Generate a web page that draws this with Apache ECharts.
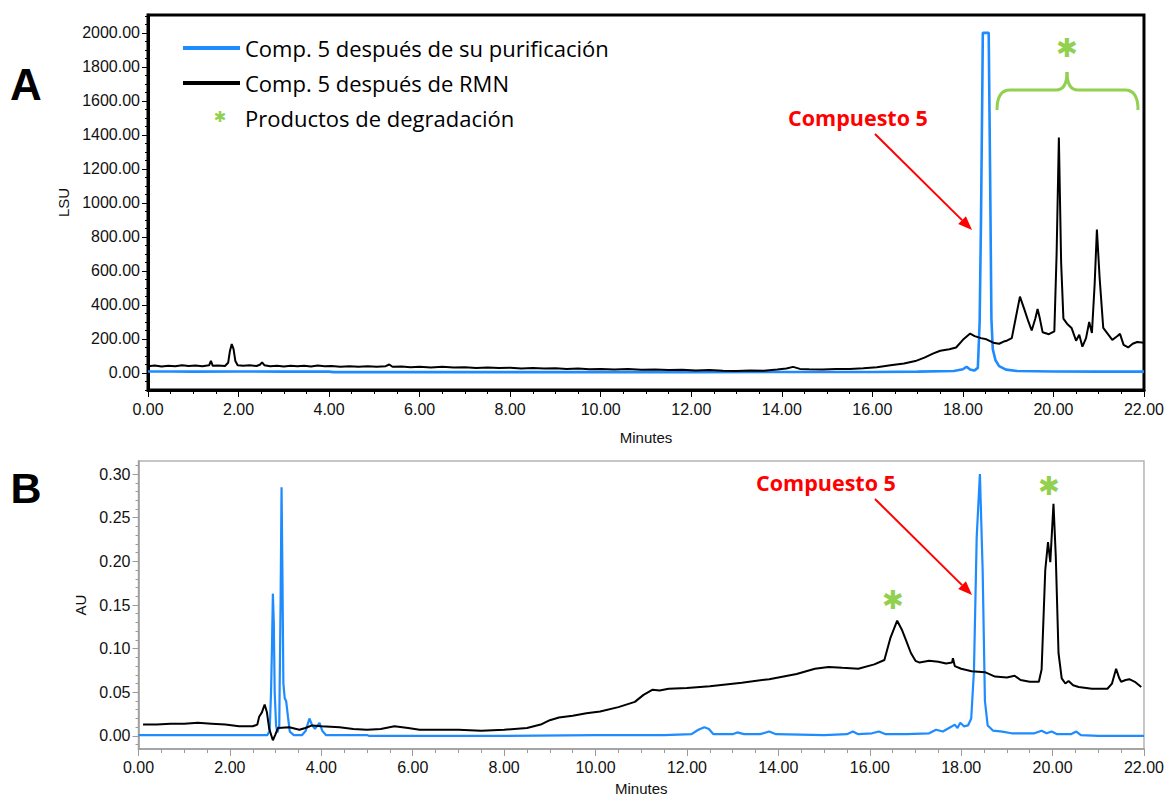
<!DOCTYPE html>
<html>
<head>
<meta charset="utf-8">
<title>HPLC compuesto 5</title>
<script src="https://cdn.jsdelivr.net/npm/echarts@6.0.0/dist/echarts.min.js"></script>
<style>
  html, body { margin: 0; padding: 0; background: #fff; }
  #chart { width: 1167px; height: 798px; }
</style>
</head>
<body>
<div id="chart"></div>
<script>
// nombres de las series
const NAME_BLUE = 'Comp. 5 después de su purificación'
const NAME_BLACK = 'Comp. 5 después de RMN'

// etiquetas de los ejes
const yTicksA = [0, 200, 400, 600, 800, 1000, 1200, 1400, 1600, 1800, 2000]
const yTicksB = [0, 0.05, 0.10, 0.15, 0.20, 0.25, 0.30]

// panel A (LSU) : [minutos, valor]
const aBlue = [[0,9],[0.5,9],[1.0,8],[2.0,9],[3.0,8],[4.0,8],[4.1,5],[6.0,5],[8.0,5],[10.0,5],[12.0,5],[14.0,6],[16.0,6],[17.0,8],[17.8,12],[18.0,22],[18.08,37],[18.16,20],[18.25,14],[18.33,30],[18.37,300],[18.40,900],[18.43,1700],[18.44,2000],[18.57,2000],[18.60,1200],[18.63,320],[18.66,140],[18.72,75],[18.80,40],[18.95,20],[19.2,12],[20.0,9],[21.0,8],[22.0,8]]

const aBlack = [[0,40],[0.15,44],[0.3,38],[0.45,43],[0.6,39],[0.75,45],[0.9,41],[1.05,44],[1.2,40],[1.35,45],[1.39,72],[1.43,42],[1.55,44],[1.7,41],[1.77,60],[1.81,130],[1.85,170],[1.89,140],[1.93,70],[1.98,46],[2.1,42],[2.25,45],[2.4,41],[2.48,50],[2.52,63],[2.57,46],[2.7,40],[2.85,43],[3.0,38],[3.15,42],[3.3,39],[3.45,43],[3.6,38],[3.75,44],[3.9,39],[4.05,41],[4.25,37],[4.45,40],[4.65,36],[4.85,40],[5.05,37],[5.25,40],[5.33,50],[5.4,37],[5.6,38],[5.8,34],[6.0,37],[6.25,33],[6.5,36],[6.75,32],[7.0,34],[7.25,30],[7.5,33],[7.75,29],[8.0,31],[8.25,27],[8.5,29],[8.75,26],[9.0,28],[9.25,24],[9.5,26],[9.75,22],[10.0,24],[10.3,20],[10.6,23],[10.9,19],[11.2,21],[11.5,17],[11.8,19],[12.1,14],[12.4,17],[12.7,13],[13.0,12],[13.3,15],[13.6,13],[13.9,20],[14.1,26],[14.25,36],[14.4,24],[14.6,22],[14.9,20],[15.2,24],[15.5,23],[15.8,28],[16.1,34],[16.4,45],[16.7,56],[16.95,70],[17.15,90],[17.35,115],[17.5,131],[17.7,140],[17.85,150],[18.0,195],[18.16,232],[18.26,217],[18.4,205],[18.52,198],[18.67,178],[18.8,172],[18.9,185],[18.97,190],[19.08,205],[19.15,300],[19.26,449],[19.35,380],[19.45,300],[19.52,250],[19.6,320],[19.65,376],[19.7,320],[19.76,240],[19.9,228],[20.02,245],[20.07,700],[20.12,1385],[20.17,650],[20.22,320],[20.3,290],[20.4,265],[20.5,190],[20.57,225],[20.64,155],[20.72,205],[20.79,300],[20.85,235],[20.91,520],[20.96,843],[21.02,560],[21.1,265],[21.2,230],[21.3,195],[21.4,215],[21.47,230],[21.55,165],[21.65,150],[21.75,172],[21.85,182],[22.0,178]]

// panel B (AU) : [minutos, valor]
const bBlue = [[0,0.001],[1.0,0.001],[2.0,0.001],[2.82,0.001],[2.87,0.006],[2.9,0.05],[2.92,0.10],[2.94,0.163],[2.96,0.13],[2.98,0.05],[3.01,0.012],[3.04,0.004],[3.08,0.012],[3.11,0.16],[3.13,0.285],[3.15,0.18],[3.17,0.06],[3.2,0.043],[3.23,0.040],[3.27,0.022],[3.31,0.005],[3.4,0.001],[3.58,0.001],[3.66,0.006],[3.74,0.020],[3.8,0.012],[3.86,0.008],[3.92,0.012],[3.96,0.015],[4.02,0.006],[4.1,0.001],[5.0,0.001],[5.05,0.0],[6.0,0.0],[8.0,0.0],[10.0,0.001],[11.5,0.001],[12.1,0.002],[12.25,0.007],[12.38,0.010],[12.48,0.008],[12.58,0.002],[13.0,0.002],[13.1,0.004],[13.25,0.002],[13.6,0.002],[13.8,0.005],[13.95,0.002],[15.0,0.001],[15.5,0.002],[15.63,0.005],[15.75,0.002],[16.05,0.003],[16.2,0.005],[16.35,0.002],[16.8,0.002],[17.3,0.003],[17.45,0.007],[17.6,0.005],[17.8,0.011],[17.86,0.013],[17.92,0.009],[17.98,0.015],[18.06,0.011],[18.15,0.012],[18.22,0.02],[18.28,0.075],[18.34,0.228],[18.41,0.300],[18.47,0.19],[18.52,0.04],[18.58,0.012],[18.7,0.006],[18.9,0.005],[19.1,0.003],[19.6,0.003],[19.76,0.006],[19.87,0.003],[19.98,0.005],[20.1,0.002],[20.4,0.002],[20.52,0.005],[20.62,0.001],[21.0,0.0],[22.0,0.0]]

const bBlack = [[0.1,0.013],[0.4,0.013],[0.7,0.014],[1.0,0.014],[1.3,0.015],[1.6,0.014],[1.9,0.013],[2.2,0.011],[2.5,0.011],[2.6,0.013],[2.64,0.022],[2.7,0.027],[2.76,0.036],[2.81,0.027],[2.86,0.008],[2.94,-0.005],[2.99,0.001],[3.05,0.009],[3.3,0.010],[3.52,0.007],[3.65,0.009],[3.8,0.012],[4.0,0.011],[4.4,0.010],[4.7,0.008],[5.0,0.007],[5.3,0.008],[5.6,0.011],[5.9,0.009],[6.15,0.007],[6.5,0.007],[7.0,0.007],[7.5,0.006],[8.0,0.007],[8.5,0.009],[8.8,0.013],[9.0,0.018],[9.2,0.021],[9.5,0.023],[9.8,0.026],[10.1,0.028],[10.5,0.033],[10.86,0.039],[11.05,0.047],[11.25,0.053],[11.4,0.052],[11.6,0.054],[12.0,0.055],[12.5,0.057],[13.2,0.061],[13.8,0.065],[14.4,0.071],[14.8,0.077],[15.1,0.079],[15.4,0.078],[15.75,0.077],[16.1,0.082],[16.32,0.087],[16.45,0.112],[16.6,0.132],[16.7,0.122],[16.79,0.110],[16.9,0.095],[17.0,0.086],[17.09,0.084],[17.3,0.086],[17.5,0.085],[17.67,0.083],[17.8,0.084],[17.82,0.089],[17.86,0.080],[18.0,0.077],[18.23,0.074],[18.52,0.073],[18.74,0.068],[19.0,0.067],[19.17,0.069],[19.3,0.064],[19.5,0.062],[19.7,0.062],[19.76,0.076],[19.84,0.19],[19.9,0.222],[19.95,0.199],[20.02,0.266],[20.07,0.206],[20.13,0.095],[20.2,0.066],[20.28,0.060],[20.35,0.063],[20.45,0.058],[20.57,0.056],[20.86,0.054],[21.2,0.054],[21.3,0.060],[21.39,0.077],[21.46,0.066],[21.5,0.062],[21.6,0.064],[21.68,0.065],[21.8,0.062],[21.94,0.056]]

const BLUE = '#1E8CFF'
const GREEN = '#92D050'
const RED = '#FF0000'
const AXIS_FONT = 'Liberation Sans'
const NOTE_FONT = 'Open Sans'

// marcas menores del eje y
function minorTicks(lo, hi, step) {
  const out = []
  for (let v = lo; v <= hi + step / 1000; v += step) out.push(+v.toFixed(4))
  return out
}

function arrow(x1, y1, x2, y2) {
  const dx = x2 - x1, dy = y2 - y1
  const len = Math.sqrt(dx * dx + dy * dy)
  const ux = dx / len, uy = dy / len
  const bx = x2 - ux * 14, by = y2 - uy * 14
  return [
    { type: 'line', z: 100, shape: { x1: x1, y1: y1, x2: bx, y2: by }, style: { stroke: RED, lineWidth: 2 } },
    { type: 'polygon', z: 100, shape: { points: [[x2, y2], [bx - uy * 5.5, by + ux * 5.5], [bx + uy * 5.5, by - ux * 5.5]] }, style: { fill: RED } }
  ]
}

function star(x, y, size) {
  return { type: 'text', z: 100, style: { text: '✱', x: x, y: y, font: 'bold ' + size + 'px DejaVu Sans', fill: GREEN, textAlign: 'center', textVerticalAlign: 'middle' } }
}

function note(x, y, text, font, color, align) {
  return { type: 'text', z: 100, style: { text: text, x: x, y: y, font: font, fill: color, textAlign: align || 'center', textVerticalAlign: 'middle' } }
}

// llave verde sobre los productos de degradación
function brace() {
  const st = { stroke: GREEN, lineWidth: 3, fill: null }
  return [
    { type: 'bezierCurve', z: 100, shape: { x1: 997, y1: 110, x2: 1010, y2: 90, cpx1: 997, cpy1: 90 }, style: st },
    { type: 'line', z: 100, shape: { x1: 1010, y1: 90, x2: 1056, y2: 90 }, style: st },
    { type: 'bezierCurve', z: 100, shape: { x1: 1056, y1: 90, x2: 1067, y2: 72, cpx1: 1067, cpy1: 90 }, style: st },
    { type: 'bezierCurve', z: 100, shape: { x1: 1067, y1: 72, x2: 1078, y2: 90, cpx1: 1067, cpy1: 90 }, style: st },
    { type: 'line', z: 100, shape: { x1: 1078, y1: 90, x2: 1125, y2: 90 }, style: st },
    { type: 'bezierCurve', z: 100, shape: { x1: 1125, y1: 90, x2: 1138, y2: 110, cpx1: 1138, cpy1: 90 }, style: st }
  ]
}

const labelStyle = { fontFamily: AXIS_FONT, fontSize: 16, color: '#111' }
const nameStyle = { fontFamily: AXIS_FONT, fontSize: 15, color: '#111' }

function xAxisFor(grid, color, width, margin, gap) {
  return {
    gridIndex: grid, type: 'value', min: 0, max: 22, interval: 2,
    axisLine: { show: true, onZero: false, lineStyle: { color: color, width: width } },
    axisTick: { show: true, length: 7, lineStyle: { color: color } },
    minorTick: { show: true, splitNumber: 4, length: 4, lineStyle: { color: color } },
    axisLabel: Object.assign({ margin: margin, formatter: v => v.toFixed(2) }, labelStyle),
    splitLine: { show: false },
    name: 'Minutes', nameLocation: 'middle', nameGap: gap, nameTextStyle: nameStyle
  }
}

function yAxisFor(grid, min, max, ticks, color, width, name, gap) {
  return {
    gridIndex: grid, type: 'value', min: min, max: max, position: 'left',
    axisLine: { show: true, onZero: false, lineStyle: { color: color, width: width } },
    axisTick: { show: true, customValues: ticks, length: 6, lineStyle: { color: color } },
    axisLabel: Object.assign({ customValues: ticks, margin: 8, formatter: v => v.toFixed(2) }, labelStyle),
    splitLine: { show: false },
    name: name, nameLocation: 'middle', nameGap: gap, nameTextStyle: nameStyle
  }
}

function yMinorFor(grid, min, max, ticks, color) {
  return {
    gridIndex: grid, type: 'value', min: min, max: max, position: 'left',
    axisLine: { show: false, onZero: false },
    axisTick: { show: true, customValues: ticks, length: 3, lineStyle: { color: color } },
    axisLabel: { show: false },
    splitLine: { show: false }
  }
}

const chart = echarts.init(document.getElementById('chart'), null, { renderer: 'svg' })

const option = {
  backgroundColor: '#fff',
  animation: false,
  grid: [
    { left: 148, top: 15, width: 996, height: 375, show: true, borderColor: '#000', borderWidth: 3 },
    { left: 138.5, top: 461, width: 1008, height: 288, show: true, borderColor: '#b4b4b4', borderWidth: 1.5 }
  ],
  xAxis: [
    xAxisFor(0, '#000', 3, 11, 40),
    xAxisFor(1, '#9a9a9a', 1.5, 10, 32)
  ],
  yAxis: [
    yAxisFor(0, -100, 2105, yTicksA, '#000', 3, 'LSU', 75),
    yMinorFor(0, -100, 2105, minorTicks(-100, 2100, 50), '#000'),
    yAxisFor(1, -0.015, 0.315, yTicksB, '#9a9a9a', 1.5, 'AU', 49),
    yMinorFor(1, -0.015, 0.315, minorTicks(-0.01, 0.31, 0.01), '#9a9a9a')
  ],
  legend: {
    data: [NAME_BLUE, NAME_BLACK],
    orient: 'vertical', left: 178, top: 31,
    icon: 'rect', itemWidth: 57, itemHeight: 4, itemGap: 11,
    selectedMode: false,
    textStyle: { fontFamily: NOTE_FONT, fontSize: 22, color: '#000', lineHeight: 24 }
  },
  series: [
    { name: NAME_BLUE, type: 'line', xAxisIndex: 0, yAxisIndex: 0, data: aBlue, showSymbol: false, color: BLUE, lineStyle: { color: BLUE, width: 2.6 }, z: 2 },
    { name: NAME_BLACK, type: 'line', xAxisIndex: 0, yAxisIndex: 0, data: aBlack, showSymbol: false, color: '#000', lineStyle: { color: '#000', width: 2 }, z: 3 },
    { name: NAME_BLUE, type: 'line', xAxisIndex: 1, yAxisIndex: 2, data: bBlue, showSymbol: false, color: BLUE, lineStyle: { color: BLUE, width: 2.2 }, z: 2 },
    { name: NAME_BLACK, type: 'line', xAxisIndex: 1, yAxisIndex: 2, data: bBlack, showSymbol: false, color: '#000', lineStyle: { color: '#000', width: 2 }, z: 3 }
  ],
  graphic: [
    note(26, 84, 'A', 'bold 44px Liberation Sans', '#000'),
    note(26, 488, 'B', 'bold 43px Liberation Sans', '#000'),
    star(220, 117, 15),
    note(245, 118, 'Productos de degradación', '22px ' + NOTE_FONT, '#000', 'left'),
    note(858, 117, 'Compuesto 5', 'bold 21.5px ' + NOTE_FONT, RED),
    ...arrow(875, 134, 972, 230),
    ...brace(),
    star(1067, 48, 26),
    note(826, 482, 'Compuesto 5', 'bold 21.5px ' + NOTE_FONT, RED),
    ...arrow(875, 499, 972, 595),
    star(893, 600, 26),
    star(1049, 486, 26)
  ]
}

chart.setOption(option)
</script>
</body>
</html>
